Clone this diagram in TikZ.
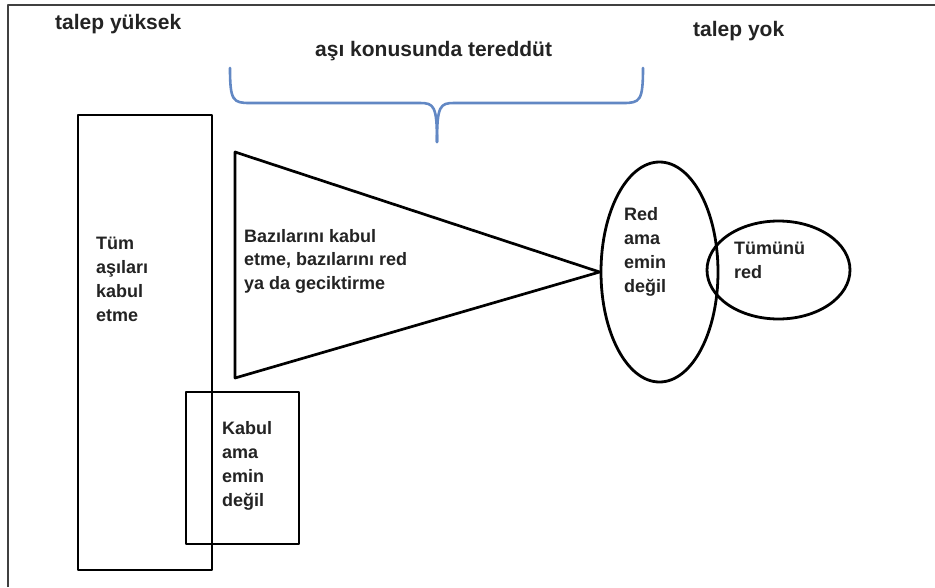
\documentclass[tikz,border=0pt]{standalone}
\usepackage{fontspec}
\setmainfont{Liberation Sans}
\usetikzlibrary{shapes.geometric}
\definecolor{braceblue}{RGB}{98,136,196}
\definecolor{txtgray}{RGB}{35,35,35}
\begin{document}
\begin{tikzpicture}[x=1pt,y=-1pt,line join=round,
	box/.style={draw,line width=2.9pt},
	ell/.style={draw,ellipse,line width=2.8pt,inner sep=0pt},
	lbl/.style={text=txtgray,font=\bfseries\fontsize{18}{24}\selectfont,align=left,anchor=north west,inner sep=0pt},
	head/.style={text=txtgray,font=\bfseries\fontsize{21}{25}\selectfont,anchor=base west,inner sep=0pt},
	brace/.style={draw=braceblue,line width=2.6pt,line cap=round}]
	\useasboundingbox (0,0) rectangle (935,587);
	\draw[line width=1.8pt,draw=black!75] (8,587) -- (8,5) -- (935,5);
	% headings
	\node[head] (hi) at (55,29) {talep yüksek};
	\node[head] (none) at (693,36) {talep yok};
	\node[head] (doubt) at (315,56) {aşı konusunda tereddüt};
	% brace
	\draw[brace] (230,68) .. controls (230,101) and (233,103) .. (250,103) -- (420,103)
		.. controls (434,103) and (437,106) .. (437,142);
	\draw[brace] (643,68) .. controls (643,101) and (640,103) .. (623,103) -- (454,103)
		.. controls (440,103) and (437,106) .. (437,142);
	% boxes
	\draw[box] (78,115) rectangle (212,570);
	\draw[box,line width=2.3pt] (186,392) rectangle (299,544);
	\node[ell,minimum width=117pt,minimum height=220pt] (rejunsure) at (659.5,272) {};
	\node[ell,minimum width=143pt,minimum height=98pt] (rejall) at (778.5,270) {};
	\draw[box,line width=2.7pt] (235,152) -- (rejunsure.west) -- (235,378) -- cycle;
	% texts
	\node[lbl] (all) at (96,237) {Tüm\\aşıları\\kabul\\etme};
	\node[lbl,font=\bfseries\fontsize{18}{23.5}\selectfont] (some) at (244,229) {Bazılarını kabul\\etme, bazılarını red\\ya da geciktirme};
	\node[lbl] (accunsure) at (222,421) {Kabul\\ama\\emin\\değil};
	\node[lbl] (rejtxt) at (624,207) {Red\\ama\\emin\\değil};
	\node[lbl] (alltxt) at (734,242) {Tümünü\\red};
\end{tikzpicture}
\end{document}
